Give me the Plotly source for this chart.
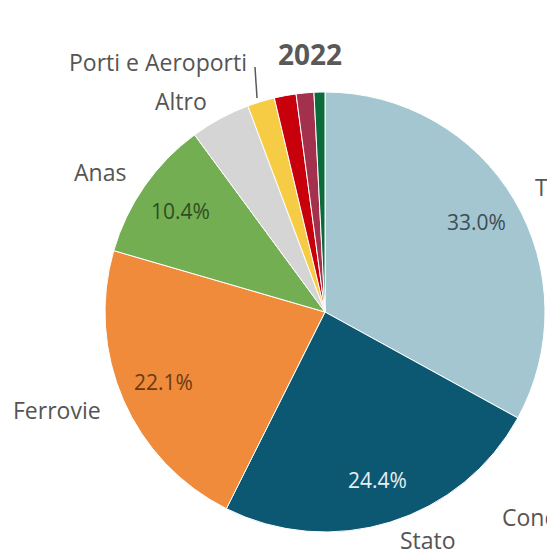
import math
import plotly.graph_objects as go

# Investment shares by entity, 2022 (percent)
categories = ["Territorio", "Stato", "Ferrovie", "Anas", "Altro",
              "Porti e Aeroporti", "Concessionari", "Utilities", "Ambiente"]
shares = [33.0, 24.4, 22.1, 10.4, 4.4, 2.0, 1.6, 1.3, 0.8]
colors = ["#A3C6D1", "#0C5872", "#F08B3C", "#74AE52", "#D5D5D5",
          "#F7CC45", "#C7000B", "#A3304D", "#0B6B3A"]
pct_colors = ["#3E4E55", "#E6F0F3", "#6B3A12", "#2F4D22"]
year_title = "2022"

W, H = 547, 554
CX, CY, R = 325, 312, 220  # pie centre and radius, px

FONT = "Open Sans"

fig = go.Figure(go.Pie(
    labels=categories,
    values=shares,
    sort=False,
    direction="clockwise",
    rotation=0,
    marker=dict(colors=colors, line=dict(color="white", width=1)),
    textinfo="none",
    hoverinfo="label+percent",
    domain=dict(x=[(CX - R) / W, (CX + R) / W],
                y=[1 - (CY + R) / H, 1 - (CY - R) / H]),
    showlegend=False,
))


def px_to_paper(x, y):
    return x / W, 1 - y / H


annotations = []

# percentage labels on the four largest slices, at 0.8 of the radius
total = sum(shares)
start = 0.0
for i, v in enumerate(shares):
    mid = (start + v / 2) / total * 2 * math.pi
    start += v
    if i < 4:
        x = CX + 0.8 * R * math.sin(mid)
        y = CY - 0.8 * R * math.cos(mid)
        px, py = px_to_paper(x, y)
        annotations.append(dict(
            x=px, y=py, xref="paper", yref="paper",
            xanchor="center", yanchor="middle",
            text=f"{v:.1f}%", showarrow=False,
            font=dict(family=FONT, size=21, color=pct_colors[i]),
        ))

# category name placement (px): (x, y, anchor)
name_pos = {
    "Territorio": (533, 187, "left"),
    "Stato": (428, 540, "center"),
    "Ferrovie": (57, 410, "center"),
    "Anas": (100, 172, "center"),
    "Altro": (181, 101, "center"),
    "Porti e Aeroporti": (158, 62, "center"),
    "Concessionari": (500, 517, "left"),
}
for name, (x, y, anchor) in name_pos.items():
    px, py = px_to_paper(x, y)
    annotations.append(dict(
        x=px, y=py, xref="paper", yref="paper",
        xanchor=anchor, yanchor="middle",
        text=name, showarrow=False,
        font=dict(family=FONT, size=23, color="#555555"),
    ))

tx, ty = px_to_paper(310, 54)
annotations.append(dict(
    x=tx, y=ty, xref="paper", yref="paper",
    xanchor="center", yanchor="middle",
    text=f"<b>{year_title}</b>",
    showarrow=False, font=dict(family=FONT, size=28, color="#595959"),
))

# leader line for the small "Porti e Aeroporti" slice
lx0, ly0 = px_to_paper(255, 67)
lx1, ly1 = px_to_paper(257, 98)

fig.update_layout(
    width=W, height=H,
    margin=dict(l=0, r=0, t=0, b=0),
    paper_bgcolor="white",
    plot_bgcolor="white",
    annotations=annotations,
    shapes=[dict(type="line", xref="paper", yref="paper",
                 x0=lx0, y0=ly0, x1=lx1, y1=ly1,
                 line=dict(color="#595959", width=1.5))],
)

fig.write_html("out.html")
